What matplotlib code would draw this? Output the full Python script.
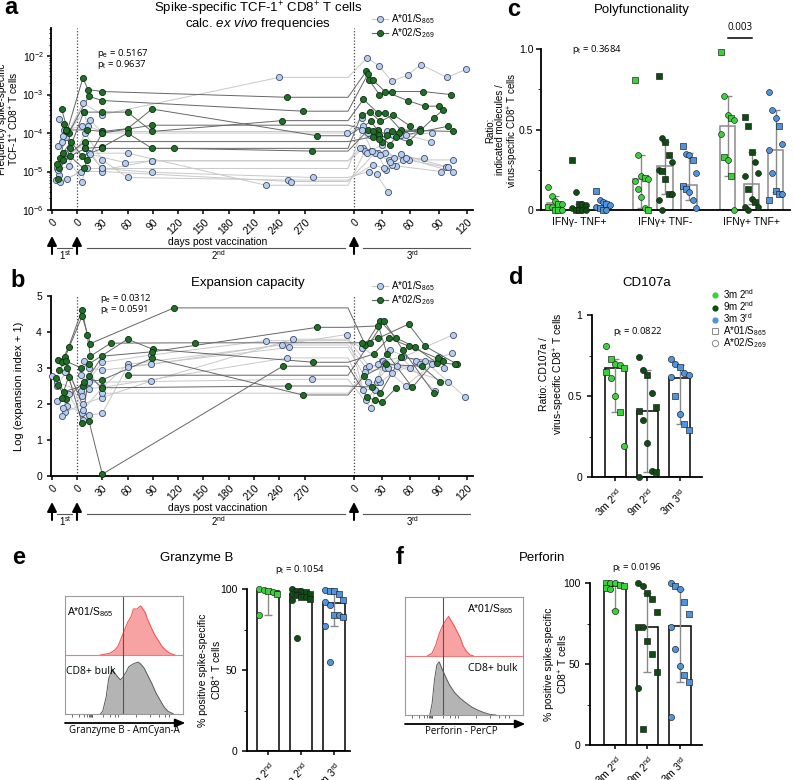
import numpy as np
import matplotlib
matplotlib.use("Agg")
import matplotlib.pyplot as plt
from matplotlib.lines import Line2D

plt.rcParams["font.family"] = ["Liberation Sans", "DejaVu Sans"]
plt.rcParams["mathtext.fontset"] = "custom"
plt.rcParams["mathtext.rm"] = "Liberation Sans"
plt.rcParams["mathtext.it"] = "Liberation Sans:italic"
plt.rcParams["mathtext.bf"] = "Liberation Sans:bold"
plt.rcParams["axes.linewidth"] = 1.3
plt.rcParams["xtick.major.width"] = 1.1
plt.rcParams["ytick.major.width"] = 1.1
plt.rcParams["xtick.labelsize"] = 7.5
plt.rcParams["ytick.labelsize"] = 7.5

# ---------------- data: panel a (ex vivo frequency), per subject, (day, value) ----------------
freq_a01_s1 = [[(6, 2.3e-4), (12, 8e-5)], [(5, 4.5e-5), (10, 1.2e-4)], [(4, 1.2e-5), (9, 2e-5)],
               [(6, 8e-6), (11, 3e-5)], [(5, 1.1e-5), (14, 1.4e-5)], [(3, 6e-6), (13, 6.5e-6)],
               [(7, 5.5e-6)], [(9, 8.5e-5)], [(8, 6e-5)], []]
freq_a01_s2 = [[(7, 6e-4), (30, 3e-4), (240, 2.8e-3)], [(6, 1.5e-4), (16, 2.2e-4), (30, 1e-4), (320, 1e-4)],
               [(9, 5.5e-5), (30, 1.1e-5), (89, 1.9e-5)], [(6, 5.5e-6), (14, 3e-5), (60, 3e-5), (224, 4.4e-6)],
               [(10, 1e-4), (30, 2e-5), (60, 7e-6), (250, 6e-6)], [(12, 1.2e-5), (30, 1.2e-5), (89, 9.5e-6), (280, 7e-6)],
               [(5, 1e-5), (30, 1e-5), (254, 5.5e-6)], [(16, 2.8e-5), (57, 1.7e-5), (89, 1.9e-5)],
               [(8, 3.5e-4), (13, 1.5e-4), (30, 1.1e-4)], [(9, 4e-5), (30, 1.2e-5)]]
freq_a01_s3 = [[(14, 9e-3), (27, 5.5e-3), (40, 2.2e-3), (57, 3.2e-3), (71, 6e-3), (99, 2.8e-3), (119, 4.5e-3)],
               [(10, 1.5e-4), (17, 9e-5), (27, 8e-5), (35, 1.1e-4), (50, 9e-5), (83, 1e-4)],
               [(10, 4e-5), (18, 3.5e-5), (33, 3e-5), (52, 2e-5), (105, 2e-5)],
               [(12, 3.5e-5), (25, 3e-5), (34, 1.1e-5), (45, 1.4e-5), (93, 1e-5)],
               [(20, 1.5e-5), (32, 1.2e-5), (40, 1.5e-5), (58, 2e-5), (98, 1.3e-5)],
               [(16, 1e-5), (24, 8.5e-6), (36, 3e-6)],
               [(22, 3e-5), (37, 2e-5), (55, 2.2e-5), (105, 1e-5)],
               [(6, 4e-5), (14, 3e-5), (30, 5e-5), (43, 2.2e-5), (74, 2.2e-5)],
               [(8, 2.5e-4), (15, 1e-4), (30, 7e-5), (42, 9e-5), (55, 9e-5), (82, 6e-5)],
               [(9, 1.2e-4), (19, 3.5e-5), (28, 2.7e-5), (38, 1.8e-5), (50, 2.8e-5), (100, 1.3e-5)]]

freq_a02_s1 = [[(8, 4.3e-4), (13, 1.2e-4)], [(10, 1.7e-4), (14, 1e-4)], [(12, 1.1e-4), (15, 4e-5)],
               [(7, 2.2e-5), (12, 1.2e-4)], [(5, 6.5e-6), (9, 2e-5)], [(6, 1.2e-5), (15, 2.5e-5)],
               [(9, 3e-5), (16, 6e-5)], [(4, 1.6e-5)]]
freq_a02_s2 = [[(7, 2.7e-3), (13, 1.35e-3), (30, 1.2e-3), (249, 8.5e-4)], [(14, 9e-4), (30, 7e-4), (268, 3.7e-4)],
               [(8, 3.5e-4), (30, 3.5e-4), (60, 3.5e-4), (89, 1.1e-4), (243, 2.1e-4)],
               [(12, 1.2e-4), (30, 1.1e-4), (60, 1.3e-4), (89, 4.2e-4), (285, 8.5e-5)],
               [(10, 4e-5), (30, 4.3e-5), (60, 1e-4), (89, 4e-5), (115, 4e-5), (279, 3.4e-5)],
               [(8, 1.2e-5), (12, 2e-5), (30, 1e-4), (89, 1.6e-4)], [(6, 2.5e-5), (30, 4e-5)], [(9, 6e-5)]]
freq_a02_s3 = [[(13, 4e-3), (16, 2.4e-3), (27, 1e-3), (40, 1.2e-3), (73, 1.2e-3), (103, 1e-3)],
               [(15, 3.5e-3), (20, 2.4e-3), (33, 1.2e-3), (57, 7e-4), (75, 5e-4), (90, 5e-4)],
               [(10, 7.5e-4), (25, 3.4e-4), (33, 3.4e-4), (50, 1.2e-4), (105, 1.1e-4)],
               [(18, 2e-4), (25, 1.2e-4), (35, 9e-5), (58, 6e-5), (85, 2.5e-4), (95, 4e-4)],
               [(15, 1.2e-4), (22, 1e-4), (30, 6e-5), (48, 1e-4), (70, 1.3e-4)],
               [(20, 1.1e-4), (27, 9e-5), (38, 5e-5), (45, 8e-5), (100, 1.5e-4)],
               [(8, 3e-4), (17, 3.5e-4), (28, 2e-4), (42, 3e-4), (60, 1.5e-4)],
               [(20, 8e-5), (27, 7e-5), (40, 1.1e-4), (70, 1.1e-4)]]

# ---------------- data: panel b (log expansion index + 1) ----------------
exp_a01_s1 = [[(0, 2.78), (4, 2.6)], [(4, 2.5), (12, 2.9)], [(4, 2.07), (11, 1.77)], [(8, 1.67), (13, 1.94)],
              [(9, 1.88), (14, 2.27)], [(11, 2.9)], [], []]
exp_a01_s2 = [[(5, 2.37), (14, 2.67), (30, 3.16), (88, 3.36), (224, 3.76)],
              [(6, 2.22), (14, 2.43), (30, 2.46), (60, 3.1), (243, 3.64)],
              [(7, 2.0), (30, 2.18), (88, 2.64), (256, 3.8)],
              [(6, 1.76), (14, 1.69), (30, 1.74), (60, 3.04), (252, 3.57)],
              [(7, 1.56), (14, 3.0), (30, 2.94), (88, 3.1), (320, 3.93)],
              [(7, 1.83), (30, 2.46), (249, 3.28)], [(5, 2.8), (14, 2.6), (279, 2.69)], [(8, 3.2), (30, 2.3)]]
exp_a01_s3 = [[(9, 3.56), (30, 3.2), (52, 3.3), (105, 3.92)], [(13, 3.0), (25, 3.1), (38, 3.5), (66, 3.2), (96, 3.0)],
              [(16, 3.05), (33, 3.0), (55, 2.5), (83, 3.12)], [(15, 2.6), (24, 2.6), (31, 3.2), (46, 3.05), (100, 2.6)],
              [(13, 2.1), (28, 2.6), (40, 2.85), (75, 3.2), (118, 2.2)], [(10, 2.4), (22, 2.4), (33, 3.15), (60, 3.0), (90, 3.3)],
              [(18, 1.88), (25, 2.7), (50, 3.3), (86, 2.37)], [(12, 2.9), (36, 3.0), (70, 3.1), (104, 3.41)]]

exp_a02_s1 = [[(5, 3.22), (11, 3.3)], [(8, 3.17), (14, 3.59)], [(6, 2.95), (12, 3.19)], [(3, 2.71), (10, 2.34)],
              [(5, 2.53), (12, 2.14)], [(8, 2.18), (14, 2.76)], [(13, 3.0)], []]
exp_a02_s2 = [[(6, 4.44), (16, 3.68), (115, 4.67)], [(6, 4.61), (12, 3.93), (16, 3.33), (40, 3.69), (140, 3.7)],
              [(5, 3.0), (14, 3.11), (60, 3.8), (90, 3.52), (280, 3.16)], [(7, 2.5), (30, 3.33), (89, 3.45), (285, 4.13)],
              [(8, 2.62), (30, 2.67), (89, 3.27), (268, 2.25)], [(6, 1.48), (14, 2.78), (30, 2.45), (250, 2.5)],
              [(14, 1.54), (30, 0.05), (244, 3.05)], [(60, 2.8)]]
exp_a02_s3 = [[(12, 3.64), (28, 4.3), (45, 3.83), (65, 3.58), (88, 3.14)], [(9, 3.7), (26, 3.83), (58, 4.22), (76, 3.6), (110, 3.1)],
              [(21, 3.39), (37, 3.83), (59, 3.6), (95, 3.2)], [(26, 4.17), (35, 3.4), (62, 2.46), (89, 3.28)],
              [(11, 2.78), (34, 3.1), (72, 3.05), (92, 2.6)], [(19, 2.47), (28, 2.3), (50, 3.3), (107, 3.1)],
              [(14, 2.2), (22, 2.1), (30, 2.05), (45, 2.45)], [(17, 3.7), (32, 4.3), (52, 3.5), (85, 2.3)]]

# ---------------- data: panel c (polyfunctionality) ----------------
poly_groups = ["IFNγ- TNF+", "IFNγ+ TNF-", "IFNγ+ TNF+"]
poly_heights = [0.046, 0.012, 0.025, 0.19, 0.274, 0.155, 0.52, 0.16, 0.37]
poly_lo = [0.0, 0.0, 0.0, 0.01, 0.10, 0.06, 0.21, 0.04, 0.11]
poly_hi = [0.085, 0.04, 0.06, 0.34, 0.42, 0.355, 0.71, 0.36, 0.62]
poly_sq = [[0.04, 0.02, 0.0, 0.0], [0.31, 0.04, 0.0, 0.0], [0.12, 0.04, 0.01, 0.0],
           [0.81, 0.20, 0.0], [0.83, 0.42, 0.34, 0.24, 0.19, 0.10], [0.40, 0.31, 0.15, 0.13],
           [0.98, 0.57, 0.33, 0.21], [0.58, 0.52, 0.36, 0.13, 0.05], [0.52, 0.12, 0.10, 0.06]]
poly_ci = [[0.14, 0.085, 0.055, 0.035, 0.02, 0.0], [0.11, 0.04, 0.03, 0.01, 0.0, 0.0], [0.06, 0.05, 0.03, 0.02, 0.0],
           [0.34, 0.21, 0.19, 0.18, 0.13, 0.08, 0.01], [0.45, 0.30, 0.25, 0.10, 0.06, 0.0], [0.35, 0.34, 0.23, 0.11, 0.06, 0.01],
           [0.71, 0.59, 0.56, 0.47, 0.31, 0.0], [0.30, 0.23, 0.21, 0.07, 0.02, 0.02, 0.0], [0.73, 0.62, 0.57, 0.41, 0.37, 0.23, 0.10]]

# ---------------- data: panels d, e, f ----------------
timepoints = ["3m 2$^{\\mathrm{nd}}$", "9m 2$^{\\mathrm{nd}}$", "3m 3$^{\\mathrm{rd}}$"]
cd107a_heights = [0.67, 0.41, 0.61]
cd107a_lo = [0.40, 0.03, 0.33]
cd107a_hi = [0.73, 0.66, 0.69]
cd107a_sq = [[0.73, 0.67, 0.65, 0.40], [0.63, 0.43, 0.41, 0.03], [0.68, 0.50, 0.33, 0.29]]
cd107a_ci = [[0.81, 0.70, 0.69, 0.61, 0.50, 0.19], [0.74, 0.66, 0.52, 0.35, 0.21, 0.04, 0.0], [0.73, 0.70, 0.64, 0.63, 0.62, 0.39]]

gzmb_heights = [99, 97, 91.4]
gzmb_lo = [84, 95, 77]
gzmb_hi = [100, 99, 98.5]
gzmb_sq = [[99, 97], [99, 98, 97, 96, 95, 94], [99, 99, 97, 93, 84, 83]]
gzmb_ci = [[100, 99.5, 98, 84], [100, 99, 97, 95, 93, 70], [99.5, 92, 90, 84, 77, 55]]

prf_heights = [98, 72.6, 73.5]
prf_lo = [83.5, 45, 39]
prf_hi = [100, 94, 96]
prf_sq = [[100, 99, 98, 97], [94, 90, 82, 73, 64, 56, 45, 10], [98, 88, 81, 43, 39]]
prf_ci = [[100, 100, 96, 83], [100, 98, 73, 35], [100, 96, 73, 59, 49, 17]]

# flow histograms: channel (fraction of axis width) and relative counts
gzmb_spec_x = [0.30, 0.38, 0.42, 0.45, 0.48, 0.51, 0.53, 0.56, 0.58, 0.61, 0.64, 0.65, 0.68, 0.70, 0.73, 0.76, 0.79, 0.82, 0.86, 0.89, 0.93]
gzmb_spec_y = [0.0, 0.03, 0.08, 0.15, 0.30, 0.45, 0.55, 0.65, 0.78, 0.78, 0.83, 0.81, 0.72, 0.60, 0.47, 0.34, 0.25, 0.15, 0.07, 0.03, 0.0]
gzmb_bulk_x = [0.30, 0.32, 0.35, 0.37, 0.40, 0.42, 0.45, 0.47, 0.49, 0.52, 0.54, 0.57, 0.59, 0.62, 0.64, 0.67, 0.70, 0.74, 0.77, 0.81, 0.84, 0.87, 0.92]
gzmb_bulk_y = [0.0, 0.05, 0.30, 0.60, 0.76, 0.70, 0.62, 0.58, 0.62, 0.72, 0.80, 0.84, 0.86, 0.88, 0.85, 0.78, 0.66, 0.50, 0.36, 0.22, 0.12, 0.05, 0.0]
prf_spec_x = [0.19, 0.23, 0.26, 0.29, 0.32, 0.35, 0.37, 0.39, 0.42, 0.44, 0.47, 0.49, 0.52, 0.55, 0.58]
prf_spec_y = [0.0, 0.05, 0.18, 0.38, 0.52, 0.62, 0.67, 0.60, 0.50, 0.42, 0.30, 0.18, 0.08, 0.02, 0.0]
prf_bulk_x = [0.21, 0.23, 0.25, 0.27, 0.29, 0.31, 0.35, 0.38, 0.42, 0.47, 0.52, 0.57, 0.62, 0.67, 0.72, 0.77]
prf_bulk_y = [0.0, 0.20, 0.60, 0.85, 0.90, 0.80, 0.62, 0.50, 0.38, 0.28, 0.20, 0.13, 0.08, 0.04, 0.01, 0.0]
hist_minor_ticks = [0.06, 0.12, 0.16, 0.19, 0.205, 0.215, 0.222, 0.228, 0.233, 0.32, 0.38, 0.42, 0.45, 0.60, 0.72, 0.80, 0.85, 0.88]

# ---------------- styles ----------------
W, H = 794, 780
LG, DG, BL = "#3ad13a", "#0e4d12", "#4f94e0"
A01_FILL, A01_EDGE, A01_LINE = "#b8cef0", "#3c4a66", "#c8c8c8"
A02_FILL, A02_EDGE, A02_LINE = "#1f6f27", "#0b2e0e", "#666666"
SEG_START = {1: 52, 2: 77, 3: 354}
SEG_SCALE = {1: 1.19, 2: 0.843, 3: 0.94}
BREAK_X = 348
PT = "p$_{\\mathrm{t}}$ = "
PE = "p$_{\\mathrm{e}}$ = "

fig = plt.figure(figsize=(W / 100, H / 100), dpi=100)


def add_ax(x0, y0, x1, y1):
    return fig.add_axes([x0 / W, 1 - y1 / H, (x1 - x0) / W, (y1 - y0) / H])


def ftext(x, y, s, **kw):
    kw.setdefault("ha", "center")
    kw.setdefault("va", "center")
    return fig.text(x / W, 1 - y / H, s, **kw)


def pos(seg, day):
    return SEG_START[seg] + SEG_SCALE[seg] * day


def draw_subjects(ax, s1s, s2s, s3s, line):
    pts_all = []
    for s1, s2, s3 in zip(s1s, s2s, s3s):
        pts = [(pos(1, d), v) for d, v in s1] + [(pos(2, d), v) for d, v in s2]
        path = list(pts)
        if pts and s3:
            path.append((BREAK_X, pts[-1][1]))
        p3 = [(pos(3, d), v) for d, v in s3]
        path += p3
        pts += p3
        ax.plot([p[0] for p in path], [p[1] for p in path], color=line, lw=0.7, zorder=2)
        pts_all += pts
    return pts_all


def timeline_panel(ax, data_blue, data_green):
    pb = draw_subjects(ax, *data_blue, A01_LINE)
    pg = draw_subjects(ax, *data_green, A02_LINE)
    ax.plot([p[0] for p in pb], [p[1] for p in pb], ls="none", marker="o", ms=4.4,
            mfc=A01_FILL, mec=A01_EDGE, mew=0.6, zorder=3, clip_on=False)
    ax.plot([p[0] for p in pg], [p[1] for p in pg], ls="none", marker="o", ms=4.4,
            mfc=A02_FILL, mec=A02_EDGE, mew=0.6, zorder=4, clip_on=False)
    for seg in (2, 3):
        ax.axvline(pos(seg, 0), color="#444", ls=(0, (1, 1.5)), lw=0.9, zorder=1)
    ticks = [pos(1, 0)] + [pos(2, d) for d in range(0, 271, 30)] + [pos(3, d) for d in range(0, 121, 30)]
    labels = ["0"] + [str(d) for d in range(0, 271, 30)] + [str(d) for d in range(0, 121, 30)]
    ax.set_xticks(ticks)
    ax.set_xticklabels(labels, rotation=45, ha="right", rotation_mode="anchor")
    ax.tick_params(axis="x", length=3, pad=2)
    ax.set_xlim(51, 473)
    for s in ("top", "right"):
        ax.spines[s].set_visible(False)
    # vaccination timeline under the axis
    hpx = ax.get_position().height * H
    tr = ax.get_xaxis_transform()
    fy = lambda off: -off / hpx
    for seg in (1, 2, 3):
        x = pos(seg, 0)
        ax.annotate("", xy=(x, fy(26)), xytext=(x, fy(44)), xycoords=tr, textcoords=tr,
                    arrowprops=dict(arrowstyle="-|>,head_width=0.28,head_length=0.55", color="black",
                                    lw=1.5, shrinkA=0, shrinkB=0), annotation_clip=False)
    for x0, x1 in [(57, 72), (87, 345), (363, 470)]:
        ax.plot([x0, x1], [fy(38), fy(38)], transform=tr, clip_on=False, color="#555", lw=0.8)
    ax.text(218, fy(32), "days post vaccination", transform=tr, ha="center", va="center", fontsize=7.5)
    ax.text(65, fy(45), "1$^{\\mathrm{st}}$", transform=tr, ha="center", va="center", fontsize=7)
    ax.text(218, fy(45), "2$^{\\mathrm{nd}}$", transform=tr, ha="center", va="center", fontsize=7)
    ax.text(413, fy(45), "3$^{\\mathrm{rd}}$", transform=tr, ha="center", va="center", fontsize=7)


def bar_panel(ax, centers, heights, lo, hi, sq, ci, colors, width, step, edge="black", ms=20):
    ax.bar(centers, heights, width, color="white", edgecolor=edge, lw=1.1, zorder=1)
    h = np.array(heights)
    ax.errorbar(centers, heights, yerr=[h - np.array(lo), np.array(hi) - h], fmt="none",
                ecolor="#8a8a8a", elinewidth=1.0, capsize=3, capthick=1.0, zorder=2)
    for c, s_vals, c_vals, col in zip(centers, sq, ci, colors):
        pts = sorted([(v, "s") for v in s_vals] + [(v, "o") for v in c_vals], reverse=True)
        offs = ((np.arange(len(pts)) % 5) - 2) * step
        for (v, m), o in zip(pts, offs):
            ax.scatter(c + o, v, s=ms if m == "o" else ms * 0.9, marker=m, color=col,
                       edgecolor="#1a1a1a", linewidth=0.45, zorder=3, clip_on=False)
    for s in ("top", "right"):
        ax.spines[s].set_visible(False)


def hist_panel(ax, sx, sy, bx, by, gate):
    ax.fill_between(sx, 1, 1 + np.array(sy), color="#f7a3a3", lw=0)
    ax.plot(sx, 1 + np.array(sy), color="#ef5a5a", lw=0.8)
    ax.axhline(1, color="#f07a7a", lw=0.8)
    ax.fill_between(bx, 0, by, color="#b4b4b4", lw=0)
    ax.plot(bx, by, color="#5a5a5a", lw=0.7)
    ax.axvline(gate, color="#555", lw=0.8)
    ax.set_xlim(0, 1)
    ax.set_ylim(0, 2)
    ax.set_yticks([])
    ax.set_xticks([])
    ax.set_xticks(hist_minor_ticks, minor=True)
    ax.tick_params(axis="x", which="minor", length=2, width=0.6, color="#555")
    for s in ax.spines.values():
        s.set_color("#9a9a9a")
        s.set_linewidth(0.8)
    hpx = ax.get_position().height * H
    ax.annotate("", xy=(1.02, -9 / hpx), xytext=(0, -9 / hpx), xycoords="axes fraction",
                arrowprops=dict(arrowstyle="-|>,head_width=0.25,head_length=0.6", color="black",
                                lw=1.3, shrinkA=0, shrinkB=0), annotation_clip=False)


# ---------------- panel a ----------------
ax_a = add_ax(51, 28, 473, 210)
timeline_panel(ax_a, (freq_a01_s1, freq_a01_s2, freq_a01_s3), (freq_a02_s1, freq_a02_s2, freq_a02_s3))
ax_a.set_yscale("log")
ax_a.set_ylim(1e-6, 10 ** -1.27)
ax_a.set_yticks([1e-6, 1e-5, 1e-4, 1e-3, 1e-2])
ax_a.tick_params(axis="y", which="major", length=3, pad=2)
ax_a.tick_params(axis="y", which="minor", length=1.5, width=0.6)
ax_a.text(97, 10 ** -1.93, PE + "0.5167", fontsize=6.8, family="Open Sans", va="center")
ax_a.text(97, 10 ** -2.21, PT + "0.9637", fontsize=6.8, family="Open Sans", va="center")

# ---------------- panel b ----------------
ax_b = add_ax(51, 296, 473, 476)
timeline_panel(ax_b, (exp_a01_s1, exp_a01_s2, exp_a01_s3), (exp_a02_s1, exp_a02_s2, exp_a02_s3))
ax_b.set_ylim(0, 5)
ax_b.set_yticks([0, 1, 2, 3, 4, 5])
ax_b.tick_params(axis="y", length=3)
ax_b.text(100, 4.92, PE + "0.0312", fontsize=6.8, family="Open Sans", va="center")
ax_b.text(100, 4.62, PT + "0.0591", fontsize=6.8, family="Open Sans", va="center")

leg_handles = [Line2D([], [], color=A01_LINE, marker="o", ms=4.4, mfc=A01_FILL, mec=A01_EDGE, mew=0.6, lw=0.8),
               Line2D([], [], color=A02_LINE, marker="o", ms=4.4, mfc=A02_FILL, mec=A02_EDGE, mew=0.6, lw=0.8)]
leg_labels = ["A*01/S$_{865}$", "A*02/S$_{269}$"]
for top in (12, 279):
    fig.legend(leg_handles, leg_labels, loc="upper left", bbox_to_anchor=(372 / W, 1 - top / H),
               frameon=False, fontsize=7, handlelength=1.6, handletextpad=0.4, labelspacing=0.05,
               borderaxespad=0, borderpad=0)

# ---------------- panel c ----------------
ax_c = add_ax(541, 49, 790, 210)
c_centers = [g * 3.6 + k for g in range(3) for k in range(3)]
bar_panel(ax_c, c_centers, poly_heights, poly_lo, poly_hi, poly_sq, poly_ci, [LG, DG, BL] * 3,
          0.65, 0.14, edge="#8a8a8a", ms=18)
ax_c.set_xlim(-0.58, 9.8)
ax_c.set_ylim(0, 1.0)
ax_c.set_yticks([0, 0.5, 1.0])
ax_c.set_yticklabels(["0", "0.5", "1.0"])
ax_c.set_yticks([0.25, 0.75], minor=True)
ax_c.tick_params(axis="y", which="major", pad=2)
ax_c.tick_params(axis="y", which="minor", length=2)
ax_c.set_xticks([g * 3.6 + 1 for g in range(3)])
ax_c.set_xticklabels(poly_groups, fontsize=7.5)
ax_c.tick_params(axis="x", length=0, pad=5)
ax_c.text(0.7, 1.0, PT + "0.3684", fontsize=6.8, family="Open Sans", va="center")
ax_c.plot([7.2, 8.2], [1.07, 1.07], color="black", lw=1.1, clip_on=False)
ax_c.text(7.7, 1.1, "0.003", fontsize=7, ha="center", va="bottom", family="Open Sans")

# ---------------- panel d ----------------
ax_d = add_ax(592, 315, 702, 477)
bar_panel(ax_d, [0, 1, 2], cd107a_heights, cd107a_lo, cd107a_hi, cd107a_sq, cd107a_ci, [LG, DG, BL], 0.66, 0.14)
ax_d.set_xlim(-0.73, 2.7)
ax_d.set_ylim(0, 1)
ax_d.set_yticks([0, 0.5, 1])
ax_d.set_yticklabels(["0", "0.5", "1"])
ax_d.set_yticks([0.25, 0.75], minor=True)
ax_d.tick_params(axis="y", which="minor", length=2)
ax_d.set_xticks([0, 1, 2])
ax_d.set_xticklabels(timepoints, rotation=45, ha="right", rotation_mode="anchor", fontsize=7.5)
ax_d.tick_params(axis="x", length=3)
ax_d.text(0.7, 0.9, PT + "0.0822", fontsize=6.8, family="Open Sans", ha="center", va="center")
d_handles = [Line2D([], [], ls="none", marker="o", ms=4.5, mfc=LG, mec="none"),
             Line2D([], [], ls="none", marker="o", ms=4.5, mfc=DG, mec="none"),
             Line2D([], [], ls="none", marker="o", ms=4.5, mfc=BL, mec="none"),
             Line2D([], [], ls="none", marker="s", ms=4.2, mfc="none", mec="#8a8a8a", mew=0.7),
             Line2D([], [], ls="none", marker="o", ms=4.5, mfc="none", mec="#8a8a8a", mew=0.7)]
fig.legend(d_handles, timepoints + leg_labels, loc="upper left", bbox_to_anchor=(711 / W, 1 - 287 / H),
           frameon=False, fontsize=7, handlelength=0.8, handletextpad=0.4, labelspacing=-0.15,
           borderaxespad=0, borderpad=0)

# ---------------- panel e ----------------
ax_eh = add_ax(65, 596, 183, 714)
hist_panel(ax_eh, gzmb_spec_x, gzmb_spec_y, gzmb_bulk_x, gzmb_bulk_y, 0.49)
ax_eh.text(0.02, 1.73, "A*01/S$_{865}$", fontsize=7.5, va="center")
ax_eh.text(0.01, 0.72, "CD8+ bulk", fontsize=7.5, family="Open Sans", va="center")
ax_eh.text(0.5, -17 / 118, "Granzyme B - AmCyan-A", transform=ax_eh.transAxes, fontsize=7,
           family="Open Sans", ha="center", va="center")

ax_e = add_ax(247, 589, 350, 751)
bar_panel(ax_e, [0, 1, 2], gzmb_heights, gzmb_lo, gzmb_hi, gzmb_sq, gzmb_ci, [LG, DG, BL], 0.67, 0.14)
ax_e.set_xlim(-0.64, 2.48)
ax_e.set_ylim(0, 100)
ax_e.set_yticks([0, 50, 100])
ax_e.set_yticks([25, 75], minor=True)
ax_e.tick_params(axis="y", which="minor", length=2)
ax_e.set_xticks([0, 1, 2])
ax_e.set_xticklabels(timepoints, rotation=45, ha="right", rotation_mode="anchor", fontsize=7.5)
ax_e.tick_params(axis="x", length=3)

# ---------------- panel f ----------------
ax_fh = add_ax(405, 597, 523, 715)
hist_panel(ax_fh, prf_spec_x, prf_spec_y, prf_bulk_x, prf_bulk_y, 0.32)
ax_fh.text(0.92, 1.8, "A*01/S$_{865}$", fontsize=7.5, ha="right", va="center")
ax_fh.text(0.53, 0.78, "CD8+ bulk", fontsize=7.5, family="Open Sans", va="center")
ax_fh.text(0.48, -16 / 118, "Perforin - PerCP", transform=ax_fh.transAxes, fontsize=7,
           family="Open Sans", ha="center", va="center")

ax_f = add_ax(590, 583, 702, 745)
bar_panel(ax_f, [0, 1, 2], prf_heights, prf_lo, prf_hi, prf_sq, prf_ci, [LG, DG, BL], 0.66, 0.14)
ax_f.set_xlim(-0.77, 2.68)
ax_f.set_ylim(0, 100)
ax_f.set_yticks([0, 50, 100])
ax_f.set_yticks([25, 75], minor=True)
ax_f.tick_params(axis="y", which="minor", length=2)
ax_f.set_xticks([0, 1, 2])
ax_f.set_xticklabels(timepoints, rotation=45, ha="right", rotation_mode="anchor", fontsize=7.5)
ax_f.tick_params(axis="x", length=3)

# ---------------- titles, labels, panel letters ----------------
ftext(258, 9, "Spike-specific TCF-1$^{+}$ CD8$^{+}$ T cells", fontsize=9.5)
ftext(258, 24, "calc. $\\mathit{ex\\ vivo}$ frequencies", fontsize=9.5)
ftext(248, 283, "Expansion capacity", fontsize=9.5)
ftext(642, 10, "Polyfunctionality", fontsize=9.5)
ftext(647, 283, "CD107a", fontsize=9.5)
ftext(197, 558, "Granzyme B", fontsize=9.5)
ftext(542, 558, "Perforin", fontsize=9.5)
ftext(300, 569, PT + "0.1054", fontsize=6.8, family="Open Sans")
ftext(637, 568, PT + "0.0196", fontsize=6.8, family="Open Sans")

ftext(9, 119, "Frequency spike-specific\nTCF-1$^{+}$ CD8$^{+}$ T cells", fontsize=7.3, rotation=90,
      linespacing=1.0)
ftext(19, 386, "Log (expansion index + 1)", fontsize=8, rotation=90)
ftext(503, 130, "Ratio:\nindicated molecules /\nvirus-specific CD8$^{+}$ T cells", fontsize=7,
      rotation=90, linespacing=1.0)
ftext(553, 374, "Ratio: CD107a /\nvirus-specific CD8$^{+}$ T cells", fontsize=7.5, rotation=90)
ftext(211, 670, "% positive spike-specific\nCD8$^{+}$ T cells", fontsize=7.5, rotation=90)
ftext(557, 664, "% positive spike-specific\nCD8$^{+}$ T cells", fontsize=7.5, rotation=90)

for letter, x, y in [("a", 11, 8), ("b", 18, 280), ("c", 514, 9), ("d", 516, 277), ("e", 19, 557), ("f", 400, 557)]:
    ftext(x, y, letter, fontsize=17, fontweight="bold")

fig.savefig("out.png", dpi=100)
